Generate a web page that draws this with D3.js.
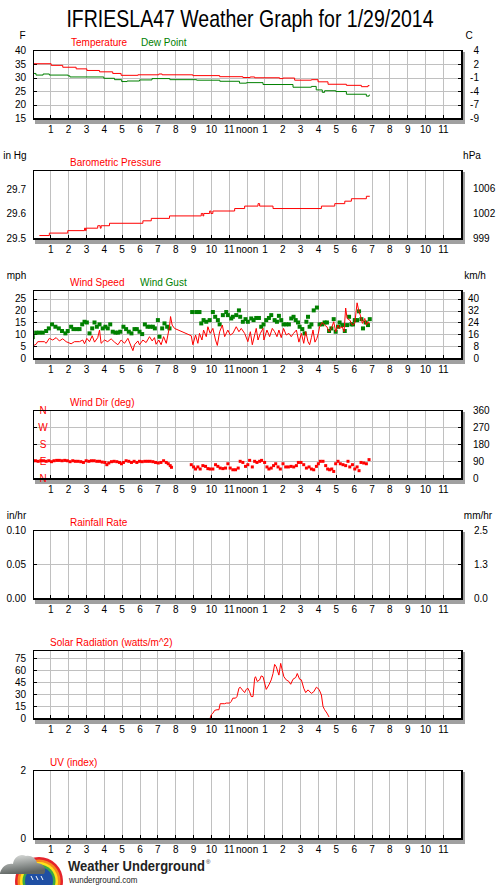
<!DOCTYPE html>
<html>
<head>
<meta charset="utf-8">
<script src="https://cdn.jsdelivr.net/npm/d3@7"></script>
<style>
  html, body { margin: 0; padding: 0; background: #fff; }
  svg { display: block; }
</style>
</head>
<body>
<svg id="chart" width="500" height="885"></svg>
<script>
"use strict";

/* ── Data (hour of day, value) ── */
const hourTicks  = [1,2,3,4,5,6,7,8,9,10,11,12,13,14,15,16,17,18,19,20,21,22,23];
const hourLabels = ["1","2","3","4","5","6","7","8","9","10","11","noon",
                    "1","2","3","4","5","6","7","8","9","10","11"];

const temperature = [[0,35.1],[1.05,34.5],[1.70,33.8],[2.45,33.2],[3.05,32.6],[3.76,32.1],
  [4.50,31.5],[4.97,30.8],[5.91,31.0],[7.08,31.3],[7.27,31.0],[8.99,30.7],[10.49,30.3],
  [11.79,30.0],[12.2,30.2],[12.45,29.9],[13.85,29.6],[14.04,29.8],[14.69,29.0],[15.63,29.2],
  [16.00,28.4],[16.56,27.5],[17.59,27.1],[18.43,26.6],[18.80,27.0],[18.88,27.0]];

const dewPoint = [[0,31.5],[0.2,30.9],[0.6,31.3],[0.95,30.9],[2.0,30.6],[2.1,30.2],[4.0,29.7],
  [4.6,29.2],[5.0,28.5],[5.3,28.7],[6.0,29.1],[6.7,29.6],[7.7,29.2],[9.2,29.0],[10.5,28.6],
  [11.6,27.9],[12.0,28.1],[12.92,27.4],[14.6,26.4],[15.63,26.7],[15.9,25.4],[16.24,24.5],
  [16.37,25.1],[17.0,24.8],[17.59,23.8],[18.71,23.1],[18.86,23.5],[18.9,23.5]];

const pressure = [[0.39,29.51],[0.95,29.52],[1.98,29.53],[2.92,29.54],[2.98,29.53],[3.01,29.54],
  [3.66,29.55],[3.80,29.54],[3.85,29.55],[4.32,29.56],[6.19,29.57],[6.66,29.58],[7.68,29.59],
  [9.46,29.60],[9.55,29.59],[9.60,29.60],[9.93,29.61],[10.0,29.60],[10.11,29.61],[11.33,29.62],
  [11.89,29.63],[12.64,29.64],[12.73,29.63],[13.48,29.62],[16.19,29.63],[16.94,29.64],
  [17.50,29.65],[17.87,29.66],[18.71,29.67],[18.9,29.67]];

const windSpeed = [[0.02,5.1],[0.21,5.8],[0.30,6.9],[0.67,6.9],[0.77,6.2],[0.95,8.3],[1.14,7.6],
  [1.33,8.6],[1.51,7.2],[1.70,8.1],[1.89,6.9],[2.17,6.0],[2.36,6.9],[2.64,6.9],[2.82,7.6],
  [2.92,6.0],[3.05,8.3],[3.20,6.9],[3.35,9.4],[3.48,6.7],[3.66,8.6],[3.76,11.8],[3.85,6.2],
  [4.04,7.6],[4.22,6.9],[4.41,8.1],[4.60,6.7],[4.79,5.6],[4.97,7.6],[5.16,6.2],[5.35,8.3],
  [5.53,4.9],[5.63,3.1],[5.72,5.6],[5.91,7.2],[6.00,5.6],[6.19,7.6],[6.37,6.5],[6.56,9.0],
  [6.71,7.2],[6.84,8.6],[6.93,5.8],[7.08,7.6],[7.21,5.6],[7.35,9.0],[7.50,6.2],[7.59,9.7],
  [7.68,13.2],[7.74,17.5],[7.83,13.9],[7.96,12.5],[8.90,9.4],[8.99,5.6],[9.14,9.7],[9.27,6.2],
  [9.36,10.4],[9.50,7.6],[9.59,11.8],[9.74,9.0],[9.83,13.2],[9.96,10.4],[10.11,12.5],
  [10.26,7.6],[10.36,5.3],[10.49,11.1],[10.64,13.9],[10.77,9.0],[10.95,11.8],[11.08,9.7],
  [11.23,10.4],[11.42,13.2],[11.57,11.1],[11.70,12.5],[11.89,10.4],[12.07,6.9],[12.21,11.1],
  [12.32,5.6],[12.45,9.7],[12.54,12.5],[12.64,7.6],[12.77,10.4],[12.92,12.5],[12.97,7.6],
  [13.14,11.8],[13.29,9.0],[13.44,12.5],[13.57,11.1],[13.70,9.0],[13.81,11.8],[13.94,8.6],
  [14.07,12.5],[14.22,9.7],[14.37,10.4],[14.50,9.0],[14.63,10.4],[14.79,11.8],[14.93,6.7],
  [15.07,10.4],[15.20,6.2],[15.31,11.1],[15.44,6.9],[15.53,5.6],[15.63,8.6],[15.72,11.8],
  [15.83,6.7],[15.94,8.3],[16.02,10.4],[16.09,13.2],[16.24,15.0],[16.37,13.9],[16.50,13.2],
  [16.62,11.1],[16.75,12.5],[16.88,15.3],[16.99,11.1],[17.12,13.9],[17.21,12.5],[17.36,13.2],
  [17.46,11.1],[17.55,21.1],[17.63,16.7],[17.78,16.0],[17.93,13.9],[18.06,14.6],[18.19,23.3],
  [18.30,19.4],[18.37,18.1],[18.49,14.6],[18.62,16.7],[18.71,13.9],[18.80,15.3],[18.90,14.6]];

const windGust = [[0.02,8.8],[0.21,10.7],[0.39,10.7],[0.58,10.7],[0.77,11.4],[0.92,12.5],[1.10,14.2],
  [1.29,13.2],[1.48,12.5],[1.66,11.4],[1.85,10.4],[1.98,11.4],[2.17,13.2],[2.30,12.2],[2.49,12.2],
  [2.64,12.2],[2.79,14.2],[2.92,15.3],[3.05,15.0],[3.20,10.4],[3.35,12.5],[3.48,15.0],[3.61,13.2],
  [3.76,14.2],[3.94,12.5],[4.09,13.2],[4.22,12.5],[4.36,14.2],[4.50,11.1],[4.65,10.7],[4.79,10.7],
  [4.92,11.1],[5.10,13.2],[5.25,12.2],[5.40,11.1],[5.55,10.4],[5.72,12.2],[5.85,12.2],[6.00,11.1],
  [6.15,10.1],[6.30,14.2],[6.45,13.2],[6.60,13.2],[6.75,13.2],[6.86,12.5],[7.03,16.0],[7.12,9.0],
  [7.27,12.5],[7.40,14.6],[7.55,13.2],[7.68,12.5],
  [8.95,19.4],[9.18,19.4],[9.36,19.4],[9.46,14.6],[9.59,16.0],[9.74,15.3],[9.93,16.0],[10.11,19.4],
  [10.24,17.4],[10.39,16.0],[10.49,14.2],[10.67,18.1],[10.86,19.4],[10.95,18.1],[11.14,16.7],
  [11.23,17.4],[11.42,18.1],[11.57,20.1],[11.64,17.4],[11.79,15.3],[11.94,16.4],[12.07,15.3],
  [12.26,16.7],[12.39,16.0],[12.54,16.9],[12.69,16.9],[12.82,13.2],[12.95,14.2],[13.10,16.0],
  [13.25,16.9],[13.38,18.1],[13.57,16.0],[13.70,15.3],[13.81,17.8],[13.94,16.0],[14.07,14.2],
  [14.22,14.2],[14.37,14.2],[14.50,16.7],[14.63,17.4],[14.75,16.0],[14.88,15.0],[14.97,13.2],
  [15.12,12.2],[15.25,10.4],[15.35,15.3],[15.44,17.4],[15.53,13.2],[15.63,14.2],[15.76,20.1],
  [15.94,21.3],[16.09,14.2],[16.24,14.2],[16.37,15.0],[16.50,15.0],[16.62,11.4],[16.75,12.5],
  [16.88,16.4],[16.99,11.1],[17.12,13.2],[17.21,15.0],[17.36,13.9],[17.50,11.4],[17.63,13.9],
  [17.74,17.4],[17.87,14.2],[17.96,14.2],[18.06,16.0],[18.19,16.0],[18.30,19.7],[18.43,16.4],
  [18.52,12.5],[18.67,15.0],[18.80,13.9],[18.90,16.4]];

const windDir = [[0.02,92],[0.17,92],[0.32,89],[0.47,92],[0.62,92],[0.77,89],[0.92,92],[1.07,87],
  [1.21,92],[1.36,94],[1.51,94],[1.66,92],[1.81,94],[1.96,92],[2.11,87],[2.26,92],[2.41,89],
  [2.56,89],[2.71,87],[2.86,83],[3.01,92],[3.16,89],[3.31,92],[3.46,92],[3.61,89],[3.76,89],
  [3.91,85],[4.06,83],[4.17,71],[4.28,80],[4.43,87],[4.58,89],[4.73,87],[4.88,83],[4.99,76],
  [5.10,83],[5.25,92],[5.40,89],[5.55,83],[5.70,89],[5.85,83],[6.00,89],[6.15,87],[6.30,89],
  [6.45,89],[6.60,89],[6.75,87],[6.90,83],[7.05,80],[7.20,83],[7.35,92],[7.50,83],[7.61,76],
  [7.72,66],[7.79,57],
  [8.90,71],[9.03,59],[9.14,48],[9.27,59],[9.40,48],[9.55,66],[9.70,62],[9.83,50],[9.96,48],
  [10.11,48],[10.26,71],[10.39,62],[10.52,53],[10.67,50],[10.82,53],[10.95,76],[11.08,53],
  [11.23,44],[11.38,44],[11.53,53],[11.64,89],[11.79,83],[11.94,62],[12.07,71],[12.17,94],
  [12.32,59],[12.45,89],[12.58,83],[12.73,89],[12.84,94],[13.01,83],[13.14,59],[13.25,48],
  [13.38,53],[13.51,66],[13.63,76],[13.76,59],[13.89,48],[14.04,76],[14.19,59],[14.34,59],
  [14.49,62],[14.64,59],[14.79,66],[14.90,83],[15.05,83],[15.20,71],[15.35,53],[15.50,59],
  [15.63,48],[15.76,44],[15.91,62],[16.02,76],[16.13,89],[16.28,89],[16.43,66],[16.54,48],
  [16.65,44],[16.77,48],[16.88,35],[16.99,76],[17.12,89],[17.25,76],[17.40,71],[17.55,66],
  [17.68,89],[17.78,59],[17.93,71],[18.06,48],[18.19,59],[18.30,39],[18.41,83],[18.56,80],
  [18.71,76],[18.86,98]];

const solar = [[9.96,0],[10.02,4],[10.11,6],[10.21,9.6],[10.34,10.4],[10.45,10.4],[10.52,18],
  [10.77,18],[10.86,18.8],[11.05,18.8],[11.14,20.8],[11.23,25],[11.38,25],[11.46,27],[11.57,37.5],
  [11.64,38.8],[11.76,35.4],[11.89,32],[11.98,36],[12.07,37.5],[12.17,33],[12.26,27],[12.36,27],
  [12.45,50],[12.50,52],[12.60,46],[12.73,48],[12.82,53],[12.92,52],[13.01,44],[13.10,36],
  [13.25,41.7],[13.38,48],[13.48,56],[13.57,67.5],[13.66,64.6],[13.81,54],[13.91,68.8],[14.00,60],
  [14.09,52],[14.22,48],[14.37,46],[14.47,42.5],[14.60,48.8],[14.75,51],[14.84,56],[14.97,48.8],
  [15.07,48],[15.20,37.5],[15.31,32],[15.44,35.4],[15.63,31],[15.76,33],[15.91,38.8],[16.06,36],
  [16.19,29],[16.28,14.6],[16.37,10.4],[16.50,6.2],[16.62,1.2]];

/* tick values and right-hand labels */
const tempTicks     = [15, 20, 25, 30, 35, 40];
const tempCLabels   = ["-9", "-7", "-4", "-1", "2", "4"];
const presTicks     = [29.5, 29.6, 29.7];
const hPaLabels     = ["999", "1002", "1006"];
const windTicks     = [0, 5, 10, 15, 20, 25];
const kmhLabels     = ["0", "8", "16", "24", "32", "40"];
const dirTicks      = [0, 90, 180, 270, 360];
const dirLetters    = ["N", "E", "S", "W", "N"];
const dirLabels     = ["0", "90", "180", "270", "360"];
const rainTicks     = [0, 0.05, 0.10];
const mmLabels      = ["0.0", "1.3", "2.5"];
const solarTicks    = [0, 15, 30, 45, 60, 75];
const uvTicks       = [0, 2];

/* ── Layout ── */
const FONT   = "'Liberation Sans', Arial, sans-serif";
const RED    = "#ff0000";
const GREEN  = "#008000";
const GRID   = "#c0c0c0";
const L = 33, R = 461, PH = 68;

const svg = d3.select("#chart").attr("font-family", FONT);
const x = d3.scaleLinear().domain([0, 24]).range([32.4, 460.8]);

const snap = v => Math.round(v) + 0.5;

function addText(g, str, px, py, opts = {}) {
  return g.append("text")
    .attr("x", px).attr("y", py)
    .attr("font-size", opts.size || 10)
    .attr("fill", opts.color || "#000")
    .attr("text-anchor", opts.anchor || "start")
    .text(str);
}

function drawPanel(p) {
  const top = p.top, bottom = top + PH;
  const y = d3.scaleLinear().domain(p.domain).range([bottom, top + 0.5]);
  const g = svg.append("g");

  /* shadow + white plot face */
  g.append("rect").attr("x", L + 2).attr("y", top + 2).attr("width", 430).attr("height", PH + 4).attr("fill", "#a0a0a0");
  g.append("rect").attr("x", L).attr("y", top).attr("width", 430).attr("height", PH + 2).attr("fill", "#fff");

  /* vertical hour gridlines + bottom ticks */
  g.append("g").selectAll("line").data(hourTicks).join("line")
    .attr("x1", d => snap(x(d))).attr("x2", d => snap(x(d)))
    .attr("y1", top + 1).attr("y2", bottom)
    .attr("stroke", GRID);
  g.append("g").selectAll("line").data(hourTicks).join("line")
    .attr("x1", d => snap(x(d))).attr("x2", d => snap(x(d)))
    .attr("y1", bottom - 3).attr("y2", bottom)
    .attr("stroke", "#000");

  /* horizontal gridlines + edge ticks */
  g.append("g").selectAll("line").data(p.grid).join("line")
    .attr("x1", L + 1).attr("x2", R)
    .attr("y1", d => snap(y(d))).attr("y2", d => snap(y(d)))
    .attr("stroke", GRID);
  g.append("g").selectAll("line").data(p.grid).join("line")
    .attr("x1", L + 1).attr("x2", L + 4)
    .attr("y1", d => snap(y(d))).attr("y2", d => snap(y(d)))
    .attr("stroke", "#000");
  g.append("g").selectAll("line").data(p.grid).join("line")
    .attr("x1", R - 3).attr("x2", R)
    .attr("y1", d => snap(y(d))).attr("y2", d => snap(y(d)))
    .attr("stroke", "#000");

  /* clipped data layer */
  const clipId = "clip-" + p.id;
  g.append("clipPath").attr("id", clipId)
    .append("rect").attr("x", L + 1).attr("y", top + 1).attr("width", R - L - 1).attr("height", PH - 1);
  const area = g.append("g").attr("clip-path", `url(#${clipId})`);
  if (p.draw) p.draw(area, y, g);

  /* frame: 1px left/top, 2px right/bottom */
  g.append("rect").attr("x", L).attr("y", top).attr("width", 430).attr("height", 1).attr("fill", "#000");
  g.append("rect").attr("x", L).attr("y", top).attr("width", 1).attr("height", PH + 2).attr("fill", "#000");
  g.append("rect").attr("x", R).attr("y", top).attr("width", 2).attr("height", PH + 2).attr("fill", "#000");
  g.append("rect").attr("x", L).attr("y", bottom).attr("width", 430).attr("height", 2).attr("fill", "#000");

  /* left axis labels */
  if (p.leftFmt) {
    g.append("g").attr("transform", "translate(26,0)")
      .call(d3.axisLeft(y).tickValues(p.ticks).tickSize(0).tickPadding(0).tickFormat(p.leftFmt))
      .call(a => {
        a.select(".domain").remove();
        a.attr("font-family", FONT).attr("font-size", 10);
        a.selectAll(".tick text").attr("fill", "#000");
      });
  }

  /* right axis labels */
  if (p.rightLabels) {
    p.ticks.forEach((t, i) => {
      addText(g, p.rightLabels[i], p.rightX, y(t) + 3.5, { anchor: p.rightAnchor });
    });
  }

  /* hour axis */
  g.append("g").attr("transform", `translate(0,${bottom + 8})`)
    .call(d3.axisBottom(x).tickValues(hourTicks).tickSize(0).tickPadding(0)
      .tickFormat((d, i) => hourLabels[i]))
    .call(a => {
      a.select(".domain").remove();
      a.attr("font-family", FONT).attr("font-size", 10);
      a.selectAll(".tick text").attr("fill", "#000");
    });

  /* unit labels */
  if (p.leftUnit)  addText(g, p.leftUnit[0],  p.leftUnit[1],  top - 11, { anchor: "middle" });
  if (p.rightUnit) addText(g, p.rightUnit[0], p.rightUnit[1], top - 11, { anchor: "middle" });

  /* series titles */
  p.titles.forEach(t => addText(g, t[0], t[1], top - 4, { color: t[2] }));
}

/* ── Title (normal width, stretched vertically) ── */
svg.append("text")
  .attr("transform", "translate(250,26.5) scale(1,1.22)")
  .attr("text-anchor", "middle")
  .attr("font-size", 19.5)
  .attr("fill", "#000")
  .text("IFRIESLA47 Weather Graph for 1/29/2014");

/* ── Temperature ── */
drawPanel({
  id: "temp", top: 50, domain: [15, 40], ticks: tempTicks, grid: [20, 25, 30, 35],
  leftFmt: d3.format("d"), rightLabels: tempCLabels, rightX: 479, rightAnchor: "end",
  leftUnit: ["F", 22.5], rightUnit: ["C", 469],
  titles: [["Temperature", 71, RED], ["Dew Point", 141, GREEN]],
  draw: (area, y) => {
    const ln = d3.line().x(d => x(d[0])).y(d => y(d[1])).curve(d3.curveStepAfter);
    area.append("path").datum(dewPoint).attr("d", ln).attr("fill", "none").attr("stroke", GREEN);
    area.append("path").datum(temperature).attr("d", ln).attr("fill", "none").attr("stroke", RED);
  }
});

/* ── Barometric pressure ── */
drawPanel({
  id: "pres", top: 170, domain: [29.5, 29.775], ticks: presTicks, grid: [],
  leftFmt: d3.format(".1f"), rightLabels: hPaLabels, rightX: 473, rightAnchor: "start",
  leftUnit: ["in Hg", 15], rightUnit: ["hPa", 472],
  titles: [["Barometric Pressure", 70, RED]],
  draw: (area, y) => {
    const ln = d3.line().x(d => x(d[0])).y(d => y(d[1])).curve(d3.curveStepAfter);
    area.append("path").datum(pressure).attr("d", ln).attr("fill", "none").attr("stroke", RED);
  }
});

/* ── Wind speed / gust ── */
drawPanel({
  id: "wind", top: 290, domain: [0, 28.5], ticks: windTicks, grid: [5, 10, 15, 20, 25],
  leftFmt: d3.format("d"), rightLabels: kmhLabels, rightX: 479, rightAnchor: "end",
  leftUnit: ["mph", 16.5], rightUnit: ["km/h", 475],
  titles: [["Wind Speed", 70, RED], ["Wind Gust", 140, GREEN]],
  draw: (area, y) => {
    area.selectAll(".gust").data(windGust).join("rect")
      .attr("class", "gust")
      .attr("x", d => x(d[0]) - 2).attr("y", d => y(d[1]) - 2)
      .attr("width", 4).attr("height", 4).attr("fill", GREEN);
    const ln = d3.line().x(d => x(d[0])).y(d => y(d[1]));
    area.append("path").datum(windSpeed).attr("d", ln).attr("fill", "none").attr("stroke", RED);
  }
});

/* ── Wind direction ── */
drawPanel({
  id: "dir", top: 410, domain: [0, 360], ticks: dirTicks, grid: [90, 180, 270],
  leftFmt: null, rightLabels: dirLabels, rightX: 473, rightAnchor: "start",
  titles: [["Wind Dir (deg)", 70, RED]],
  draw: (area, y, g) => {
    dirTicks.forEach((t, i) => addText(g, dirLetters[i], 43, y(t) + 3.5, { anchor: "middle", color: RED }));
    area.selectAll(".dir").data(windDir).join("rect")
      .attr("class", "dir")
      .attr("x", d => x(d[0]) - 1.5).attr("y", d => y(d[1]) - 1.5)
      .attr("width", 3).attr("height", 3).attr("fill", RED);
  }
});

/* ── Rainfall rate ── */
drawPanel({
  id: "rain", top: 530, domain: [0, 0.10], ticks: rainTicks, grid: [0.05],
  leftFmt: d3.format(".2f"), rightLabels: mmLabels, rightX: 474, rightAnchor: "start",
  leftUnit: ["in/hr", 16.5], rightUnit: ["mm/hr", 478],
  titles: [["Rainfall Rate", 70, RED]]
});

/* ── Solar radiation ── */
drawPanel({
  id: "solar", top: 650, domain: [0, 85], ticks: solarTicks, grid: [15, 30, 45, 60, 75],
  leftFmt: d3.format("d"),
  titles: [["Solar Radiation (watts/m^2)", 50, RED]],
  draw: (area, y) => {
    const ln = d3.line().x(d => x(d[0])).y(d => y(d[1]));
    area.append("path").datum(solar).attr("d", ln).attr("fill", "none").attr("stroke", RED);
  }
});

/* ── UV index ── */
drawPanel({
  id: "uv", top: 770, domain: [0, 2], ticks: uvTicks, grid: [],
  leftFmt: d3.format("d"),
  titles: [["UV (index)", 50, RED]]
});

/* ── Weather Underground logo ── */
const logo = svg.append("g");
const defs = svg.append("defs");
const cg = defs.append("linearGradient").attr("id", "cloudGrad")
  .attr("x1", 0).attr("y1", 0).attr("x2", 0.3).attr("y2", 1);
cg.append("stop").attr("offset", 0).attr("stop-color", "#e4e6e4");
cg.append("stop").attr("offset", 1).attr("stop-color", "#5e6462");

[["#e5232b", 24], ["#f58a1f", 21.5], ["#ffe21a", 19], ["#3aa845", 16.5], ["#1f4fa3", 14]]
  .forEach(([c, r]) => logo.append("circle").attr("cx", 39).attr("cy", 881).attr("r", r).attr("fill", c));
[[31, 876], [36, 876], [41, 876]].forEach(([sx, sy]) =>
  logo.append("line").attr("x1", sx).attr("y1", sy).attr("x2", sx + 2).attr("y2", sy + 4)
    .attr("stroke", "#fff").attr("stroke-width", 1));
logo.append("path")
  .attr("d", "M0,873 C2,866 8,863 13,864 C14,857 20,853 26,856 C31,855 36,858 37,863 C42,863 46,867 45,872 L44,874 L0,874 Z")
  .attr("fill", "url(#cloudGrad)");

logo.append("text")
  .attr("transform", "translate(68,871) scale(1,1.08)")
  .attr("font-size", 13).attr("font-weight", "bold")
  .attr("fill", "#222")
  .text("Weather Underground");
addText(logo, "®", 206, 864, { size: 6, color: "#222" });
logo.append("text")
  .attr("transform", "translate(69,883) scale(1,1.1)")
  .attr("font-size", 8)
  .attr("fill", "#222")
  .text("wunderground.com");
</script>
</body>
</html>
